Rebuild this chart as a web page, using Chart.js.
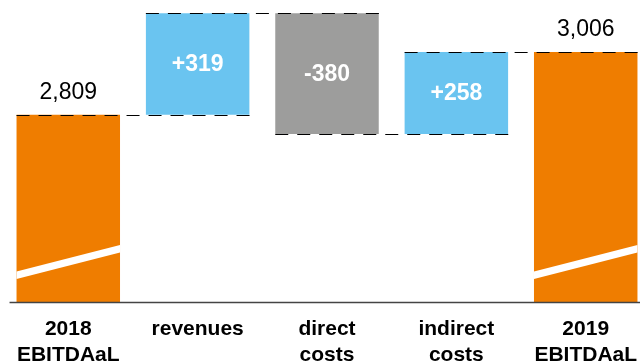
<!DOCTYPE html>
<html>
<head>
<meta charset="utf-8">
<script src="https://cdn.jsdelivr.net/npm/chart.js@4/dist/chart.umd.min.js"></script>
<style>
  html, body { margin: 0; padding: 0; background: #fff; overflow: hidden; }
  body { width: 640px; height: 362px; position: relative; }
  #wrap { position: absolute; left: 3px; top: 0; width: 648px; height: 382px; }
</style>
</head>
<body>
<div id="wrap"><canvas id="bridge-chart"></canvas></div>
<script>
// EBITDAaL bridge 2018 -> 2019
const categories = [['2018', 'EBITDAaL'], 'revenues', ['direct', 'costs'], ['indirect', 'costs'], ['2019', 'EBITDAaL']];
const values = [2809, 319, -380, 258, 3006];
const kinds = ['total', 'delta', 'delta', 'delta', 'total'];

const ORANGE = '#EF7D00';
const BLUE = '#6AC4F0';
const GREY = '#9D9D9C';

// floating bars: totals from zero, deltas from the running total
let running = 0;
const bars = values.map((v, i) => {
    if (kinds[i] === 'total') {
        running = v;
        return [0, v];
    }
    const from = running;
    running += v;
    return [from, running];
});
const barColors = values.map((v, i) => kinds[i] === 'total' ? ORANGE : (v < 0 ? GREY : BLUE));

const bridgePlugin = {
    id: 'bridge',
    afterDatasetsDraw(chart) {
        const ctx = chart.ctx;
        const meta = chart.getDatasetMeta(0);
        const y = chart.scales.y;
        const bottom = chart.chartArea.bottom;
        const els = meta.data;

        ctx.save();

        // axis break stripes on the total bars
        els.forEach((el, i) => {
            if (kinds[i] !== 'total') return;
            const l = el.x - el.width / 2, r = el.x + el.width / 2;
            ctx.fillStyle = '#fff';
            ctx.beginPath();
            ctx.moveTo(l, bottom - 23);
            ctx.lineTo(r, bottom - 49.5);
            ctx.lineTo(r, bottom - 57);
            ctx.lineTo(l, bottom - 30.5);
            ctx.closePath();
            ctx.fill();
        });

        // dashed connectors between steps
        ctx.strokeStyle = '#000';
        ctx.lineWidth = 1;
        ctx.setLineDash([13, 9]);
        for (let i = 0; i < els.length - 1; i++) {
            const level = Math.round(y.getPixelForValue(bars[i][1])) + 0.5;
            const a = els[i], b = els[i + 1];
            ctx.beginPath();
            ctx.moveTo(a.x - a.width / 2, level);
            ctx.lineTo(b.x + b.width / 2 + 3, level);
            ctx.stroke();
        }
        ctx.setLineDash([]);

        // baseline
        ctx.strokeStyle = '#444';
        ctx.lineWidth = 1.5;
        ctx.beginPath();
        ctx.moveTo(els[0].x - els[0].width / 2 - 7, bottom + 0.5);
        ctx.lineTo(chart.width, bottom + 0.5);
        ctx.stroke();

        // value labels
        ctx.textAlign = 'center';
        els.forEach((el, i) => {
            const v = values[i];
            if (kinds[i] === 'total') {
                ctx.fillStyle = '#000';
                ctx.font = '23px "Liberation Sans", Arial, sans-serif';
                ctx.textBaseline = 'alphabetic';
                ctx.fillText(v.toLocaleString('en-US'), el.x, y.getPixelForValue(v) - 16);
            } else {
                const top = y.getPixelForValue(Math.max(bars[i][0], bars[i][1]));
                const bot = y.getPixelForValue(Math.min(bars[i][0], bars[i][1]));
                ctx.fillStyle = '#fff';
                ctx.font = 'bold 23px "Liberation Sans", Arial, sans-serif';
                ctx.textBaseline = 'middle';
                ctx.fillText((v > 0 ? '+' : '-') + Math.abs(v), el.x, (top + bot) / 2 + 1);
            }
        });

        ctx.restore();
    }
};

const bridgeChart = new Chart(document.getElementById('bridge-chart'), {
    type: 'bar',
    data: {
        labels: categories,
        datasets: [{
            data: bars,
            backgroundColor: barColors,
            borderWidth: 0,
            categoryPercentage: 0.8,
            barPercentage: 1
        }]
    },
    options: {
        responsive: true,
        maintainAspectRatio: false,
        animation: false,
        layout: { padding: 0 },
        plugins: {
            legend: { display: false },
            tooltip: { enabled: false }
        },
        scales: {
            x: {
                grid: { display: false, drawTicks: false },
                border: { display: false },
                ticks: {
                    color: '#000',
                    padding: 14,
                    maxRotation: 0,
                    autoSkip: false,
                    font: { family: '"Liberation Sans", Arial, sans-serif', size: 21, weight: 'bold', lineHeight: 1.24 }
                }
            },
            y: {
                display: false,
                min: 2220,
                max: 3170
            }
        }
    },
    plugins: [bridgePlugin]
});
</script>
</body>
</html>
